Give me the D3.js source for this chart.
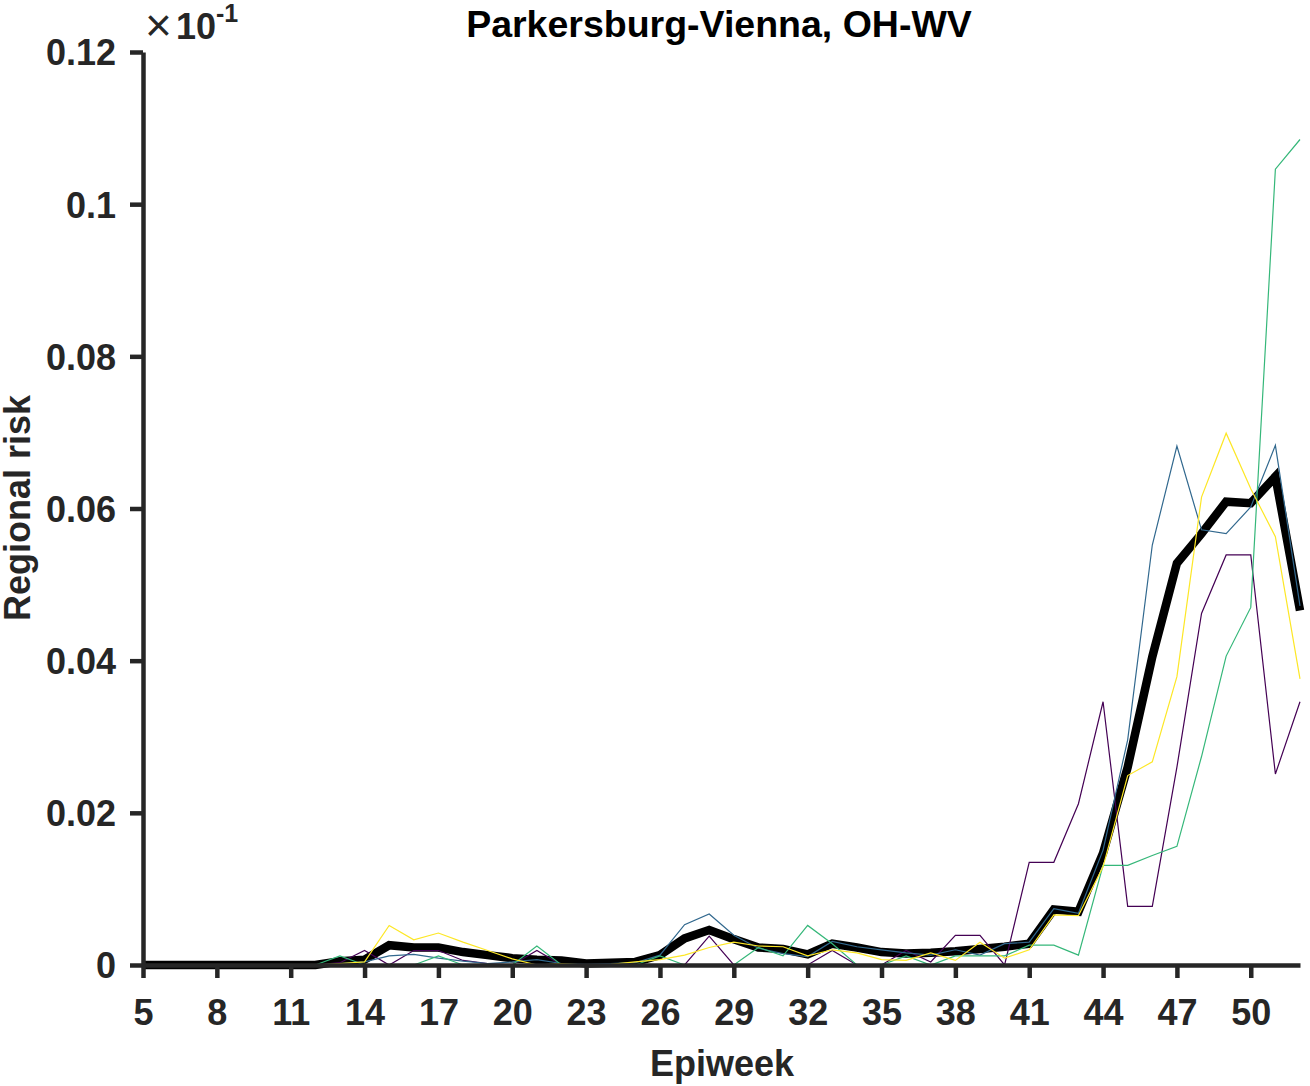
<!DOCTYPE html>
<html>
<head>
<meta charset="utf-8">
<script src="https://cdn.jsdelivr.net/npm/d3@7"></script>
<style>
  html, body { margin: 0; padding: 0; background: #fff; }
  svg { display: block; font-family: "Liberation Sans", Arial, Helvetica, sans-serif; }
</style>
</head>
<body>
<svg id="chart" width="1310" height="1086"></svg>
<script>
const weeks = d3.range(5, 53);
const xTicks = [5, 8, 11, 14, 17, 20, 23, 26, 29, 32, 35, 38, 41, 44, 47, 50];
const yTicks = [0, 0.02, 0.04, 0.06, 0.08, 0.1, 0.12];
const yTickLabels = ["0", "0.02", "0.04", "0.06", "0.08", "0.1", "0.12"];

const meanRisk = [0,0,0,0,0,0,0,0, 0.0005,0.0007,0.0026,0.0023,0.0023,0.0017,0.0013,0.0009,
  0.0007,0.0006,0.0002,0.0003,0.0004,0.0013,0.0035,0.0046,0.0034,0.0023,0.0021,0.0014,
  0.0028,0.0023,0.0017,0.0015,0.0016,0.0018,0.0021,0.0024,0.0028,0.0073,0.0070,0.0147,
  0.0260,0.0405,0.0528,0.0567,0.0609,0.0607,0.0642,0.0466];
const purpleRisk = [0,0,0,0,0,0,0,0, 0.0003,0.0019,0,0.0019,0.0019,0.0006,0.0002,0,
  0.0019,0,0,0,0,0,0,0.0038,0,0,0,0,
  0.0019,0,0,0.0019,0.0004,0.0039,0.0039,0,0.0135,0.0135,0.0212,0.0346,
  0.0077,0.0077,0.0260,0.0462,0.0539,0.0539,0.0251,0.0346];
const blueRisk = [0,0,0,0,0,0,0,0, 0.0002,0.0004,0.0012,0.0014,0.0009,0.0005,0.0002,0.0004,
  0.0007,0.0002,0.0001,0.0002,0.0003,0.0013,0.0053,0.0067,0.0039,0.0022,0.0015,0.0011,
  0.0031,0.0024,0.0020,0.0016,0.0013,0.0020,0.0013,0.0028,0.0030,0.0074,0.0068,0.0151,
  0.0296,0.0552,0.0682,0.0572,0.0567,0.0602,0.0683,0.0472];
const greenRisk = [0,0,0,0,0,0,0,0, 0.0012,0,0,0,0.0012,0,0,0,
  0.0025,0,0,0,0,0.0012,0,0,0,0.0023,0.0012,0.0052,
  0.0028,0,0,0.0012,0,0.0012,0.0012,0.0012,0.0026,0.0026,0.0013,0.0131,
  0.0131,0.0144,0.0156,0.0274,0.0406,0.0470,0.1046,0.1085];
const yellowRisk = [0,0,0,0,0,0,0,0, 0.0002,0.0004,0.0052,0.0033,0.0042,0.0030,0.0019,0.0008,
  0,0.0002,0,0.0001,0.0004,0.0007,0.0013,0.0023,0.0030,0.0025,0.0024,0.0012,
  0.0020,0.0016,0.0007,0.0006,0.0016,0.0006,0.0030,0.0009,0.0020,0.0066,0.0065,0.0129,
  0.0249,0.0267,0.0379,0.0615,0.0699,0.0626,0.0563,0.0376];

const seriesList = [
  { name: "mean", values: meanRisk, color: "#000000", width: 8.5 },
  { name: "s1", values: purpleRisk, color: "#440154", width: 1.2 },
  { name: "s2", values: blueRisk, color: "#31688e", width: 1.2 },
  { name: "s3", values: greenRisk, color: "#35b779", width: 1.2 },
  { name: "s4", values: yellowRisk, color: "#fde725", width: 1.2 }
];

const svg = d3.select("#chart");
const x = d3.scaleLinear().domain([5, 52]).range([143, 1300]);
const y = d3.scaleLinear().domain([0, 0.12]).range([965, 52]);
const axisColor = "#262626";

const line = d3.line().x((d, i) => x(weeks[i])).y(d => y(d));

const plot = svg.append("g");
seriesList.forEach(s => {
  plot.append("path")
    .datum(s.values)
    .attr("fill", "none")
    .attr("stroke", s.color)
    .attr("stroke-width", s.width)
    .attr("stroke-linejoin", "miter")
    .attr("d", line);
});

// X axis
const xAxis = svg.append("g")
  .attr("transform", "translate(0,965)")
  .call(d3.axisBottom(x).tickValues(xTicks).tickFormat(d3.format("d")).tickSize(13).tickPadding(21).tickSizeOuter(0));
// Y axis
const yAxis = svg.append("g")
  .attr("transform", "translate(143,0)")
  .call(d3.axisLeft(y).tickValues(yTicks).tickFormat((d, i) => yTickLabels[i]).tickSize(13).tickPadding(14).tickSizeOuter(0));

[xAxis, yAxis].forEach(g => {
  g.select(".domain").attr("stroke", axisColor).attr("stroke-width", 4.5);
  g.selectAll(".tick line").attr("stroke", axisColor).attr("stroke-width", 4.5);
  g.selectAll(".tick text")
    .attr("fill", axisColor)
    .style("font-size", "36px")
    .style("font-weight", "bold")
    .style("font-family", "'Liberation Sans', Arial, sans-serif");
});
xAxis.selectAll(".tick text").attr("dy", "0.71em");
yAxis.selectAll(".tick text").attr("dy", "0.36em");

// Exponent label
const expo = svg.append("text")
  .attr("x", 145).attr("y", 41)
  .attr("fill", axisColor)
  .style("font-family", "'Liberation Sans', Arial, sans-serif");
expo.append("tspan").text("\u00d7").style("font-size", "46px").style("font-weight", "normal");
expo.append("tspan").text("10").attr("dx", 4).attr("dy", -2).style("font-size", "36px").style("font-weight", "bold");
expo.append("tspan").text("-1").attr("dy", -17).style("font-size", "25px").style("font-weight", "bold");

// Title
svg.append("text")
  .attr("x", 719).attr("y", 37)
  .attr("text-anchor", "middle")
  .attr("fill", "#000")
  .style("font-size", "37.5px").style("font-weight", "bold")
  .text("Parkersburg-Vienna, OH-WV");

// X label
svg.append("text")
  .attr("x", 722).attr("y", 1076)
  .attr("text-anchor", "middle")
  .attr("fill", axisColor)
  .style("font-size", "36px").style("font-weight", "bold")
  .text("Epiweek");

// Y label
svg.append("text")
  .attr("transform", "translate(30,508) rotate(-90)")
  .attr("text-anchor", "middle")
  .attr("fill", axisColor)
  .style("font-size", "36px").style("font-weight", "bold")
  .text("Regional risk");
</script>
</body>
</html>
